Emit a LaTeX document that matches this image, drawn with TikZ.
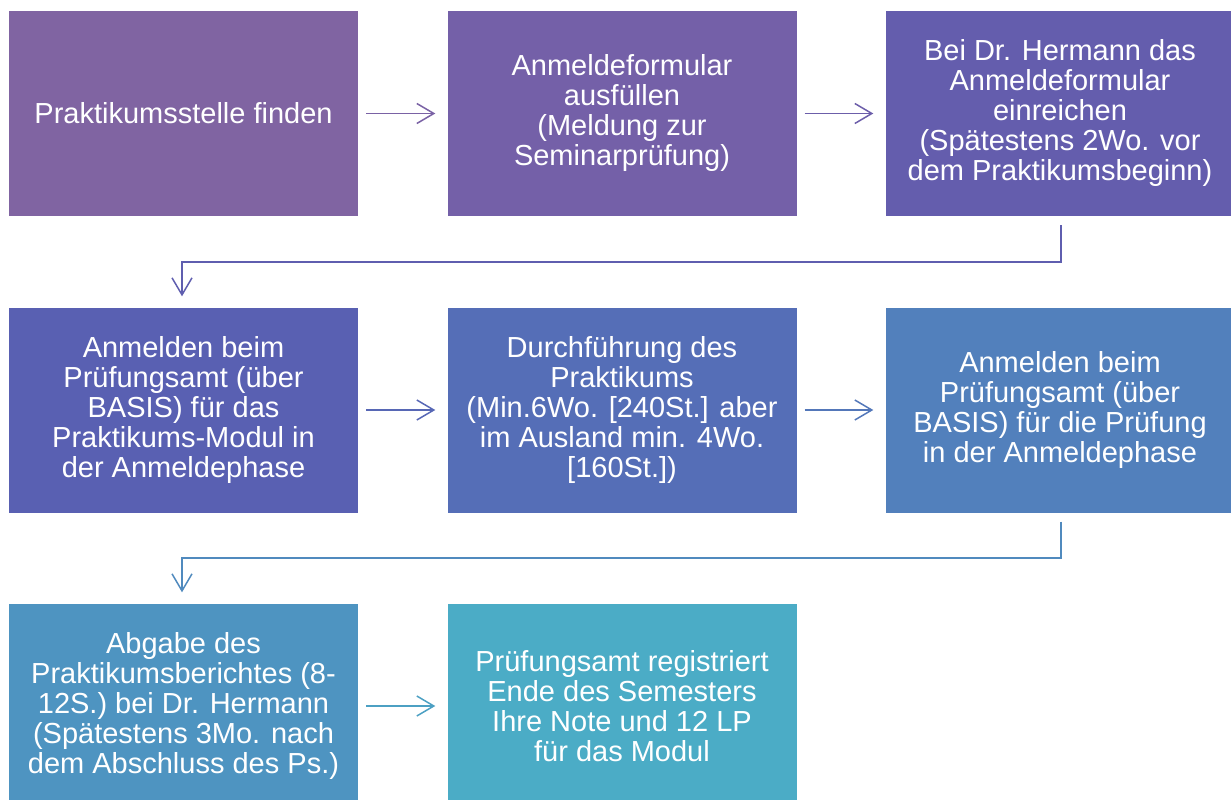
\documentclass[tikz,border=0pt]{standalone}
\usepackage{fontspec}
\setmainfont{Liberation Sans}
\usetikzlibrary{arrows.meta}
\definecolor{c0}{HTML}{8064A2}
\definecolor{c1}{HTML}{7460A8}
\definecolor{c2}{HTML}{645DAD}
\definecolor{c3}{HTML}{5960B2}
\definecolor{c4}{HTML}{556EB7}
\definecolor{c5}{HTML}{5280BC}
\definecolor{c6}{HTML}{4E94C1}
\definecolor{c7}{HTML}{4BACC6}
\tikzset{
  stepbox/.style={minimum width=349pt, minimum height=205pt, inner sep=0pt, align=center,
    text=white, font=\fontsize{29}{30}\selectfont},
  conn/.style={line width=1.5pt, -{Straight Barb[length=17pt,width=20pt,line width=1.5pt]}},
}
\begin{document}
\begin{tikzpicture}[x=1pt,y=-1pt]
\useasboundingbox (0,0) rectangle (1231,800);
\node[stepbox, fill=c0] (b1) at (183.5,113.5) {Praktikumsstelle finden};
\node[stepbox, fill=c1] (b2) at (622,113.5) {Anmeldeformular\\ausfüllen\\(Meldung zur\\Seminarprüfung)};
\node[stepbox, fill=c2] (b3) at (1060,113.5) {Bei Dr. Hermann das\\Anmeldeformular\\einreichen\\(Spätestens 2Wo. vor\\dem Praktikumsbeginn)};
\node[stepbox, fill=c3] (b4) at (183.5,410) {Anmelden beim\\Prüfungsamt (über\\BASIS) für das\\Praktikums-Modul in\\der Anmeldephase};
\node[stepbox, fill=c4] (b5) at (622,410) {Durchführung des\\Praktikums\\(Min.6Wo. {[240St.]} aber\\im Ausland min. 4Wo.\\{}{[160St.])}};
\node[stepbox, fill=c5] (b6) at (1060,410) {Anmelden beim\\Prüfungsamt (über\\BASIS) für die Prüfung\\in der Anmeldephase};
\node[stepbox, fill=c6] (b7) at (183.5,706) {Abgabe des\\Praktikumsberichtes (8-\\12S.) bei Dr. Hermann\\(Spätestens 3Mo. nach\\dem Abschluss des Ps.)};
\node[stepbox, fill=c7] (b8) at (622,706) {Prüfungsamt registriert\\Ende des Semesters\\Ihre Note und 12 LP\\für das Modul};
% horizontal connectors
\draw[conn, draw={c0!50!c1}] ([xshift=8pt]b1.east) -- ([xshift=-12pt]b2.west);
\draw[conn, draw={c1!50!c2}] ([xshift=8pt]b2.east) -- ([xshift=-12pt]b3.west);
\draw[conn, draw={c3!50!c4}] ([xshift=8pt]b4.east) -- ([xshift=-12pt]b5.west);
\draw[conn, draw={c4!50!c5}] ([xshift=8pt]b5.east) -- ([xshift=-12pt]b6.west);
\draw[conn, draw={c6!50!c7}] ([xshift=8pt]b7.east) -- ([xshift=-12pt]b8.west);
% elbow connectors
\coordinate (k1) at (1061,262);
\coordinate (k2) at (182,262);
\draw[conn, draw={c2!50!c3}] ([xshift=1pt,yshift=-9pt]b3.south) -- (k1) -- (k2) -- ([xshift=-1.5pt,yshift=11pt]b4.north);
\coordinate (k3) at (1061,558);
\coordinate (k4) at (182,558);
\draw[conn, draw={c5!50!c6}] ([xshift=1pt,yshift=-9pt]b6.south) -- (k3) -- (k4) -- ([xshift=-1.5pt,yshift=11pt]b7.north);
\end{tikzpicture}
\end{document}
